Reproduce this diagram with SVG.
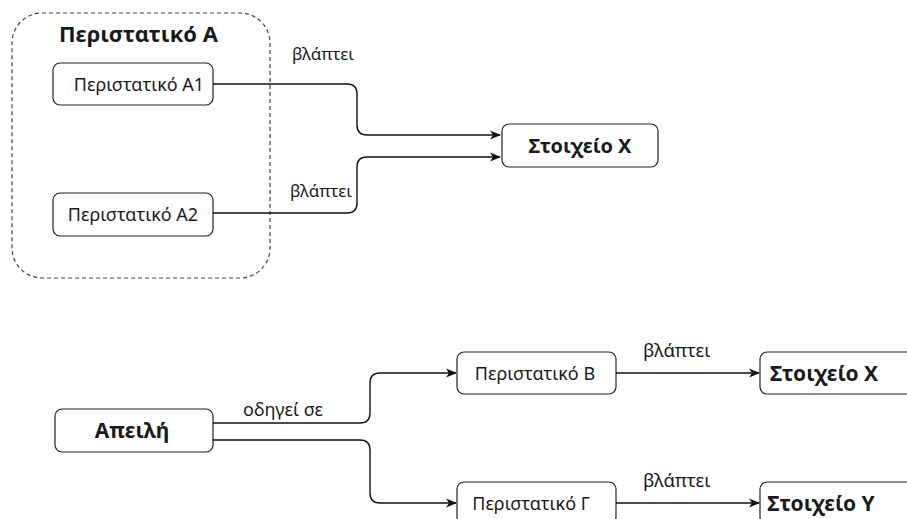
<svg xmlns="http://www.w3.org/2000/svg" width="907" height="519" viewBox="0 0 907 519">
<style>
.box{fill:#fff;stroke:#222;stroke-width:1.2}
.grp{fill:none;stroke:#444;stroke-width:1.2;stroke-dasharray:4 3}
.t{font-family:"Noto Sans","Open Sans",sans-serif;font-size:18px;fill:#1a1a1a;text-anchor:middle}
.b{font-weight:bold;font-size:20px}
.lbl{font-family:"Noto Sans","Open Sans",sans-serif;font-size:17px;fill:#1a1a1a}
.e{fill:none;stroke:#111;stroke-width:1.4}
</style>
<defs>
<marker id="ar" markerWidth="11" markerHeight="11" refX="10" refY="5.5" orient="auto" markerUnits="userSpaceOnUse">
<path d="M0,1 L11,5.5 L0,10 L3,5.5 Z" fill="#111"/>
</marker>
</defs>
<g id="group-A">
<rect class="grp" x="12" y="13" width="258" height="265" rx="30"/>
<text class="t" x="59" y="42" style="font-size:22px;font-weight:bold;text-anchor:start">Περιστατικό A</text>
</g>
<g id="A1"><rect class="box" x="53" y="63" width="160" height="42" rx="7"/><text class="t" x="139" y="91">Περιστατικό A1</text></g>
<g id="A2"><rect class="box" x="53" y="193" width="160" height="43" rx="7"/><text class="t" x="133" y="221">Περιστατικό A2</text></g>
<g id="X1"><rect class="box" x="502" y="124" width="156" height="43" rx="7"/><text class="t b" x="580" y="153">Στοιχείο X</text></g>
<g id="threat"><rect class="box" x="55" y="409" width="158" height="43" rx="7"/><text class="t b" x="132" y="438" style="font-size:21px">Απειλή</text></g>
<g id="B"><rect class="box" x="457" y="352" width="159" height="42" rx="7"/><text class="t" x="535" y="380">Περιστατικό B</text></g>
<g id="X2"><rect class="box" x="760" y="352" width="160" height="42" rx="7"/><text class="t b" x="824" y="381" style="font-size:21px">Στοιχείο X</text></g>
<g id="G"><rect class="box" x="457" y="482" width="159" height="42" rx="7"/><text class="t" x="531" y="510">Περιστατικό Γ</text></g>
<g id="Y"><rect class="box" x="760" y="482" width="160" height="42" rx="7"/><text class="t b" x="821" y="511" style="font-size:21px">Στοιχείο Y</text></g>
<g id="connectors">
<path class="e" marker-end="url(#ar)" d="M213,84 H347 Q357,84 357,94 V125 Q357,135 367,135 H500"/>
<path class="e" marker-end="url(#ar)" d="M213,213 H347 Q357,213 357,203 V167 Q357,157 367,157 H500"/>
<path class="e" marker-end="url(#ar)" d="M213,423 H360 Q370,423 370,413 V383 Q370,373 380,373 H456"/>
<path class="e" marker-end="url(#ar)" d="M213,440 H360 Q370,440 370,450 V493 Q370,503 380,503 H456"/>
<path class="e" marker-end="url(#ar)" d="M616,373 H759"/>
<path class="e" marker-end="url(#ar)" d="M616,503 H759"/>
<text class="lbl" x="292" y="60">βλάπτει</text>
<text class="lbl" x="290" y="197">βλάπτει</text>
<text class="lbl" x="243" y="416" style="font-size:18px">οδηγεί σε</text>
<text class="lbl" x="643" y="357" style="font-size:18.5px">βλάπτει</text>
<text class="lbl" x="643" y="487" style="font-size:18.5px">βλάπτει</text>
</g>
</svg>
